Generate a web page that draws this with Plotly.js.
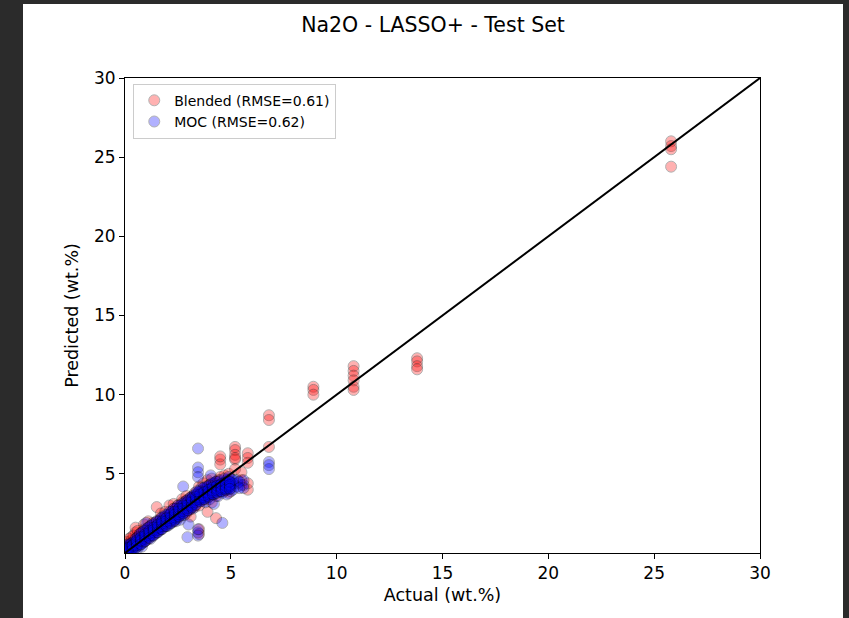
<!DOCTYPE html>
<html>
<head>
<meta charset="utf-8">
<script src="https://cdn.plot.ly/plotly-3.0.1.min.js"></script>
<style>
html,body{margin:0;padding:0;background:#2b2b2b;width:849px;height:618px;overflow:hidden;}
#chart{position:absolute;left:23px;top:4px;width:820px;height:614px;}
</style>
</head>
<body>
<div id="chart"></div>
<script>
// Blended (red) series: actual values and predictions
const blendedActual = [
0.1,0.1,0.1,0.1, 0.3,0.3,0.3,0.3, 0.5,0.5,0.5,0.5, 0.7,0.7,0.7,0.7,
0.9,0.9,0.9,0.9, 1.1,1.1,1.1,1.1, 1.3,1.3,1.3,1.3, 1.5,1.5,1.5,1.5,
1.7,1.7,1.7,1.7, 1.9,1.9,1.9,1.9, 2.1,2.1,2.1,2.1, 2.3,2.3,2.3,2.3,
2.5,2.5,2.5,2.5, 2.7,2.7,2.7,2.7, 2.9,2.9,2.9,2.9, 3.1,3.1,3.1,3.1,
3.3,3.3,3.3,3.3, 3.5,3.5,3.5,3.5,3.5,3.5, 3.7,3.7,3.7,3.7, 3.9,3.9,3.9,3.9,
4.1,4.1,4.1,4.1, 4.3,4.3,4.3,4.3, 4.5,4.5,4.5,4.5,4.5, 4.7,4.7,4.7,4.7,
4.9,4.9,4.9,4.9, 5.2,5.2,5.2,5.2,5.2,5.2, 5.5,5.5,5.5, 5.8,5.8,5.8,5.8,5.8,
6.8,6.8,6.8, 8.9,8.9,8.9, 10.8,10.8,10.8,10.8,10.8,10.8, 13.8,13.8,13.8,13.8,
25.8,25.8,25.8,25.8,
0.2,0.2, 0.4,0.4, 0.6,0.6, 0.8,0.8, 1.0,1.0, 1.2,1.2, 1.4,1.4, 1.6,1.6,
1.8,1.8, 2.0,2.0, 2.2,2.2, 2.4,2.4, 2.6,2.6, 2.8,2.8, 3.0,3.0, 3.2,3.2,
3.4,3.4, 3.6,3.6, 3.8,3.8, 4.0,4.0, 4.2,4.2, 4.4,4.4
];
const blendedPred = [
0.4,0.2,0.7,0.1, 0.6,1.0,0.3,0.8, 1.3,0.9,0.5,1.6, 0.8,1.2,0.6,1.1,
1.5,1.0,0.7,1.8, 1.2,0.9,1.6,2.0, 1.6,1.1,1.9,1.4, 2.9,2.0,1.6,1.3,
1.8,2.2,1.5,2.5, 2.3,1.7,2.0,2.6, 3.0,2.4,1.9,2.2, 2.5,2.0,2.8,3.1,
2.7,2.2,3.0,2.4, 3.2,2.6,2.9,3.4, 3.0,2.5,3.3,3.6, 3.5,2.8,3.2,2.3,
3.8,3.3,2.9,3.6, 3.4,4.2,3.0,3.7,1.5,1.2, 3.9,3.3,4.4,3.6, 4.0,3.5,4.6,2.6,
3.8,4.3,3.2,4.7, 4.1,2.2,3.6,4.5, 5.9,5.6,6.1,4.8,4.2, 4.4,3.9,4.9,4.1,
4.6,4.2,5.0,3.8, 6.7,6.5,6.2,5.9,6.0,5.3, 4.6,4.3,5.1, 6.3,6.0,5.7,4.0,4.4,
8.7,8.4,6.7, 10.5,10.3,10.0, 11.8,11.5,11.2,10.9,10.5,10.3, 12.3,12.1,11.8,11.6,
26.0,25.7,25.5,24.4,
0.5,0.9, 1.1,0.6, 1.0,1.4, 1.3,0.9, 1.4,1.1, 1.7,1.3, 1.8,1.5, 2.0,1.7,
2.2,1.9, 2.3,2.0, 2.6,2.3, 2.8,2.5, 2.9,2.7, 3.1,2.9, 3.3,3.0, 3.5,3.1,
3.7,3.4, 3.9,3.5, 4.1,3.7, 4.3,3.9, 4.4,4.0, 4.6,4.2
];
// MOC (blue) series
const mocActual = [
0.05,0.05,0.05,0.05,0.05, 0.2,0.2,0.2,0.2, 0.4,0.4,0.4,0.4, 0.6,0.6,0.6,0.6,
0.8,0.8,0.8,0.8, 1.0,1.0,1.0,1.0, 1.2,1.2,1.2,1.2, 1.4,1.4,1.4,1.4,
1.6,1.6,1.6,1.6, 1.8,1.8,1.8,1.8, 2.0,2.0,2.0,2.0, 2.2,2.2,2.2,2.2,
2.4,2.4,2.4,2.4, 2.6,2.6,2.6,2.6, 2.8,2.8,2.8,2.8, 3.0,3.0,3.0,3.0,
3.2,3.2,3.2,3.2, 3.45,3.45,3.45,3.45,3.45,3.45,3.45,3.45,3.45,
3.6,3.6,3.6,3.6, 3.8,3.8,3.8,3.8, 4.0,4.0,4.0,4.0, 4.2,4.2,4.2,4.2,
4.4,4.4,4.4,4.4, 4.6,4.6,4.6,4.6, 4.8,4.8,4.8,4.8, 5.0,5.0,5.0,5.0,
5.3,5.3,5.3, 5.6,5.6,5.6, 6.8,6.8,6.8,
0.1,0.1,0.1, 0.3,0.3,0.3, 0.5,0.5,0.5, 0.7,0.7,0.7, 0.9,0.9,0.9,
1.1,1.1,1.1, 1.3,1.3,1.3, 1.5,1.5,1.5, 1.7,1.7,1.7, 1.9,1.9,1.9,
2.1,2.1,2.1, 2.3,2.3,2.3, 2.5,2.5,2.5, 2.7,2.7,2.7, 2.9,2.9,2.9,
3.1,3.1,3.1, 3.3,3.3,3.3, 3.5,3.5,3.5, 3.7,3.7,3.7, 3.9,3.9,3.9,
4.1,4.1,4.1, 4.3,4.3,4.3, 4.5,4.5,4.5, 4.7,4.7,4.7, 4.9,4.9,4.9,
5.1,5.1,5.1, 5.4,5.4,
0.15,0.15,0.15,0.15, 0.35,0.35,0.35,0.35, 0.55,0.55,0.55,0.55, 0.75,0.75,0.75,0.75,
0.95,0.95,0.95,0.95, 1.15,1.15,1.15,1.15, 1.35,1.35,1.35,1.35, 1.55,1.55,1.55,1.55,
1.75,1.75,1.75,1.75, 1.95,1.95,1.95,1.95, 2.15,2.15,2.15,2.15, 2.35,2.35,2.35,2.35,
2.55,2.55,2.55,2.55, 2.75,2.75,2.75,2.75, 2.95,2.95,2.95,2.95, 3.15,3.15,3.15,3.15,
3.35,3.35,3.35,3.35, 3.55,3.55,3.55,3.55, 3.75,3.75,3.75,3.75, 3.95,3.95,3.95,3.95,
4.15,4.15,4.15,4.15, 4.35,4.35,4.35,4.35, 4.55,4.55,4.55,4.55, 4.75,4.75,4.75,4.75,
4.95,4.95,4.95,4.95, 2.75, 2.95, 3.4, 4.05
];
const mocPred = [
0.2,0.0,0.4,0.1,0.3, 0.3,0.1,0.5,0.6, 0.4,0.2,0.7,0.5, 0.5,0.8,0.3,1.0,
0.6,1.0,1.3,0.4, 1.1,0.8,1.5,1.9, 1.3,1.7,0.9,1.1, 1.5,1.2,1.9,1.6,
1.6,2.0,1.4,1.8, 1.9,2.1,1.6,2.3, 2.0,2.4,1.7,2.2, 2.1,2.6,2.3,1.9,
2.5,2.2,2.8,2.0, 2.6,3.0,2.4,2.1, 2.9,2.6,3.2,2.4, 3.0,3.4,2.7,1.8,
3.5,3.1,3.6,2.8, 6.6,5.4,5.1,4.8,3.8,3.4,1.3,1.1,1.5,
3.7,3.3,4.1,3.5, 3.6,4.0,3.2,4.2, 3.8,3.4,4.3,4.0, 4.0,3.7,4.4,3.1,
4.2,3.6,4.5,3.9, 4.1,1.9,3.8,4.4, 4.3,4.0,4.6,3.7, 4.4,4.1,4.7,3.9,
4.4,4.2,4.6, 4.3,4.6,4.1, 5.75,5.55,5.3,
0.0,0.2,0.5, 0.2,0.6,0.4, 0.7,0.3,0.9, 0.9,0.5,1.2, 1.1,0.7,1.4,
1.3,1.0,1.6, 1.4,1.8,1.1, 1.7,1.3,2.0, 1.9,1.5,2.2, 2.0,1.7,2.4,
2.2,1.8,2.6, 2.4,2.0,2.8, 2.7,2.3,3.0, 2.8,2.4,3.1, 3.0,2.6,3.3,
3.2,2.8,3.5, 3.4,3.0,3.7, 3.6,3.3,3.9, 3.8,3.4,4.1, 3.9,3.6,4.2,
4.1,3.7,4.4, 4.2,3.8,4.5, 4.3,3.9,4.6, 4.4,4.0,4.7, 4.5,4.1,4.8,
4.4,4.0,4.6, 4.5,4.1,
0.1,0.2,0.35,0.3, 0.3,0.45,0.5,0.2, 0.5,0.65,0.8,0.4, 0.75,0.8,1.0,0.55,
0.9,1.05,1.2,0.75, 1.1,1.25,1.4,0.95, 1.3,1.45,1.6,1.1, 1.45,1.6,1.8,1.3,
1.7,1.85,2.0,1.5, 1.85,2.0,2.2,1.7, 2.05,2.2,2.45,1.9, 2.25,2.4,2.6,2.1,
2.45,2.6,2.8,2.3, 2.65,2.8,3.0,2.5, 2.85,3.0,3.2,2.7, 3.0,3.2,3.4,2.9,
3.2,3.35,3.55,3.05, 3.4,3.5,3.7,3.25, 3.5,3.65,3.85,3.4, 3.7,3.8,4.0,3.55,
3.85,3.95,4.15,3.7, 3.95,4.05,4.25,3.8, 4.05,4.15,4.35,3.9, 4.1,4.25,4.45,4.0,
4.2,4.3,4.5,4.05, 4.2, 1.0, 3.9, 4.9
];
const oneToOne = [0, 30];
const xTicks = [0, 5, 10, 15, 20, 25, 30];
const yTicks = [5, 10, 15, 20, 25, 30];

const font = 'DejaVu Sans, sans-serif';
const traces = [
  {x: blendedActual, y: blendedPred, mode: 'markers', type: 'scatter', name: 'Blended (RMSE=0.61)',
   marker: {color: 'red', size: 11, opacity: 0.3, line: {color: 'black', width: 1}}, cliponaxis: true},
  {x: mocActual, y: mocPred, mode: 'markers', type: 'scatter', name: 'MOC (RMSE=0.62)',
   marker: {color: 'blue', size: 11, opacity: 0.3, line: {color: 'black', width: 1}}, cliponaxis: true},
  {x: oneToOne, y: oneToOne, mode: 'lines', type: 'scatter', showlegend: false,
   line: {color: 'black', width: 2}}
];
const layout = {
  width: 820, height: 614,
  paper_bgcolor: 'white', plot_bgcolor: 'white',
  margin: {l: 102, r: 83, t: 74, b: 65},
  font: {family: font, color: 'black', size: 17},
  title: {text: 'Na2O - LASSO+ - Test Set', x: 0.5, xref: 'container', y: 0.966, yref: 'container',
          yanchor: 'middle', font: {size: 20.5, family: font}},
  xaxis: {range: [0, 30], tickvals: xTicks, ticktext: xTicks.map(String), showgrid: false, zeroline: false,
          showline: true, mirror: true, linecolor: 'black', linewidth: 1, ticks: 'outside', ticklen: 5,
          tickcolor: 'black', tickfont: {size: 17},
          title: {text: 'Actual (wt.%)', font: {size: 17.5}, standoff: 6}},
  yaxis: {range: [0, 30], tickvals: yTicks, ticktext: yTicks.map(String), showgrid: false, zeroline: false,
          showline: true, mirror: true, linecolor: 'black', linewidth: 1, ticks: 'outside', ticklen: 5,
          tickcolor: 'black', tickfont: {size: 17},
          title: {text: 'Predicted (wt.%)', font: {size: 17.5}, standoff: 10}},
  legend: {x: 0.013, y: 0.988, xanchor: 'left', yanchor: 'top', bgcolor: 'rgba(255,255,255,0.8)',
           bordercolor: '#cccccc', borderwidth: 1, font: {size: 14}, tracegroupgap: 0},
  showlegend: true
};
Plotly.newPlot('chart', traces, layout, {displayModeBar: false, staticPlot: true});
</script>
</body>
</html>
